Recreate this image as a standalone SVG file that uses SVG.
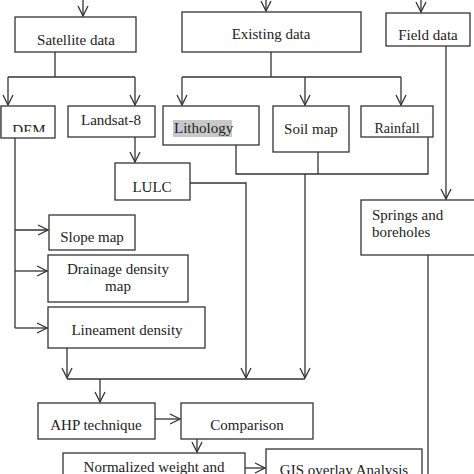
<svg xmlns="http://www.w3.org/2000/svg" width="474" height="474" viewBox="0 0 474 474">
<defs>
<style>
.box{fill:#fff;stroke:#333;stroke-width:1.3}
.t{font-family:"Liberation Serif","Times New Roman",serif;font-size:15px;fill:#222}
.c{text-anchor:middle}
.ln{fill:none;stroke:#333;stroke-width:1.3}
</style>
<marker id="ah" viewBox="0 0 12 12" refX="11" refY="6" markerWidth="12" markerHeight="12" markerUnits="userSpaceOnUse" orient="auto">
<path d="M1,1 L11,6 L1,11" fill="none" stroke="#333" stroke-width="1.3"/>
</marker>
<clipPath id="demclip"><rect x="0" y="106" width="60" height="26"/></clipPath>
</defs>
<rect width="474" height="474" fill="#fff"/>
<g id="connectors" class="ln">
<path d="M83,0 V16" marker-end="url(#ah)"/>
<path d="M266,0 V11" marker-end="url(#ah)"/>
<path d="M421,0 V12" marker-end="url(#ah)"/>
<path d="M55,52 V77"/>
<path d="M8,77 H135"/>
<path d="M8,77 V105" marker-end="url(#ah)"/>
<path d="M135,77 V105" marker-end="url(#ah)"/>
<path d="M271,52 V77"/>
<path d="M182,77 H401"/>
<path d="M182,77 V105" marker-end="url(#ah)"/>
<path d="M305,77 V105" marker-end="url(#ah)"/>
<path d="M401,77 V105" marker-end="url(#ah)"/>
<path d="M446,46 V199" marker-end="url(#ah)"/>
<path d="M135,137 V162" marker-end="url(#ah)"/>
<path d="M190,183 H246 V378" marker-end="url(#ah)"/>
<path d="M236,145 V174 H428 V137"/>
<path d="M318,152 V174"/>
<path d="M305,174 V378" marker-end="url(#ah)"/>
<path d="M428,255 V474"/>
<path d="M15,138 V328"/>
<path d="M15,230 H48" marker-end="url(#ah)"/>
<path d="M15,271 H47" marker-end="url(#ah)"/>
<path d="M15,328 H47" marker-end="url(#ah)"/>
<path d="M67,348 V378" marker-end="url(#ah)"/>
<path d="M67,379 H305"/>
<path d="M100,379 V402" marker-end="url(#ah)"/>
<path d="M155,419 H180" marker-end="url(#ah)"/>
<path d="M197,439 V452" marker-end="url(#ah)"/>
<path d="M245,468 H265" marker-end="url(#ah)"/>
</g>
<g id="satellite"><rect class="box" x="15" y="17" width="121" height="35"/><text class="t c" x="76" y="45">Satellite data</text></g>
<g id="existing"><rect class="box" x="182" y="12" width="179" height="40"/><text class="t c" x="271" y="39">Existing data</text></g>
<g id="field"><rect class="box" x="386" y="13" width="84" height="33"/><text class="t c" x="428" y="40">Field data</text></g>
<g id="dem"><rect x="0" y="106" width="4" height="32" fill="#ccc"/><rect class="box" x="1" y="106" width="54" height="32"/><text class="t c" x="29" y="135" clip-path="url(#demclip)">DEM</text></g>
<g id="landsat"><rect class="box" x="68" y="106" width="87" height="31"/><text class="t c" x="111" y="125">Landsat-8</text></g>
<g id="lithology"><rect class="box" x="163" y="106" width="96" height="39"/><rect x="173" y="120" width="59" height="17" fill="#c8c8c8"/><text class="t" x="174" y="133">Lithology</text></g>
<g id="soil"><rect class="box" x="273" y="106" width="76" height="46"/><text class="t c" x="311" y="134">Soil map</text></g>
<g id="rainfall"><rect class="box" x="361" y="106" width="72" height="31"/><text class="t c" x="397" y="133" style="font-size:14px">Rainfall</text></g>
<g id="lulc"><rect class="box" x="115" y="163" width="75" height="37"/><text class="t c" x="152" y="192">LULC</text></g>
<g id="springs"><rect class="box" x="361" y="200" width="115" height="55"/><text class="t" x="372" y="220">Springs and</text><text class="t" x="372" y="237">boreholes</text></g>
<g id="slope"><rect class="box" x="49" y="215" width="86" height="35"/><text class="t c" x="92" y="242">Slope map</text></g>
<g id="drainage"><rect class="box" x="48" y="255" width="140" height="47"/><text class="t c" x="118" y="274">Drainage density</text><text class="t c" x="118" y="291">map</text></g>
<g id="lineament"><rect class="box" x="48" y="307" width="157" height="41"/><text class="t c" x="127" y="335">Lineament density</text></g>
<g id="ahp"><rect class="box" x="38" y="403" width="117" height="36"/><text class="t c" x="96" y="430">AHP technique</text></g>
<g id="comparison"><rect class="box" x="181" y="403" width="132" height="36"/><text class="t c" x="247" y="430">Comparison</text></g>
<g id="normalized"><rect class="box" x="63" y="453" width="182" height="30"/><text class="t c" x="154" y="472">Normalized weight and</text></g>
<g id="gis"><rect class="box" x="266" y="449" width="156" height="34"/><text class="t c" x="344" y="475">GIS overlay Analysis</text></g>
</svg>
